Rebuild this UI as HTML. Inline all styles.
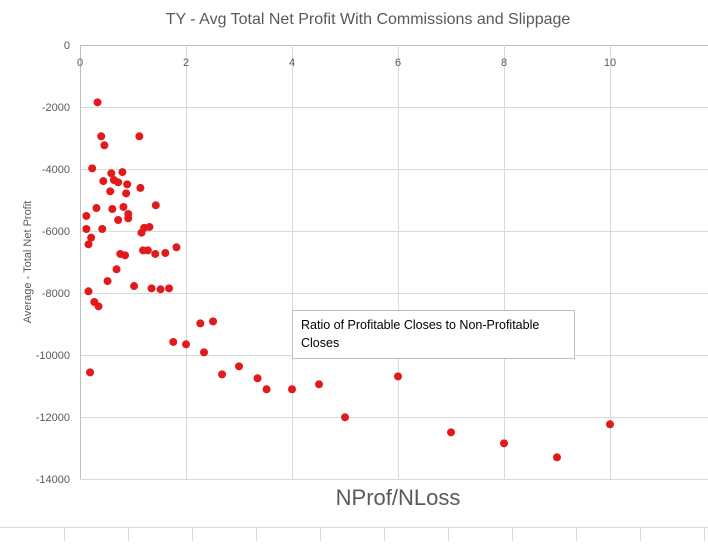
<!DOCTYPE html>
<html><head><meta charset="utf-8"><style>
body{margin:0;background:#fff;font-family:"Liberation Sans",sans-serif;}
svg text{font-family:"Liberation Sans",sans-serif;}
</style></head><body>
<svg id="chart" width="708" height="541" xmlns="http://www.w3.org/2000/svg">
<rect width="708" height="541" fill="#fff"/>
<g id="sheet"></g>
<text x="368" y="24" text-anchor="middle" font-size="16" fill="#595959">TY - Avg Total Net Profit With Commissions and Slippage</text>
<g id="grid"></g>
<g id="xticks"></g>
<g id="yticks"></g>
<g id="points"></g>
<text transform="translate(31,262) rotate(-90)" text-anchor="middle" font-size="11" fill="#595959">Average - Total Net Profit</text>
<text x="398" y="505" text-anchor="middle" font-size="22" fill="#595959">NProf/NLoss</text>
<g>
<rect x="292.5" y="310.5" width="282" height="48" fill="#fff" stroke="#bfbfbf"/>
<text x="301" y="329" font-size="12.5" fill="#000">Ratio of Profitable Closes to Non-Profitable</text>
<text x="301" y="347" font-size="12.5" fill="#000">Closes</text>
</g>
</svg>
<script>
const xTicks=[0,2,4,6,8,10];
const yTicks=[0,-2000,-4000,-6000,-8000,-10000,-12000,-14000];
const xVals=[0.33,0.40,1.12,0.46,0.23,0.59,0.80,0.44,0.64,0.72,0.89,1.14,0.57,0.87,0.31,0.61,0.82,1.43,0.12,0.91,0.91,0.72,0.12,0.42,1.31,1.21,1.16,0.21,0.16,0.76,0.85,1.19,1.28,1.42,1.61,1.82,0.69,0.52,1.02,1.35,1.52,1.68,0.16,0.27,0.35,2.27,2.51,1.76,2.0,2.34,0.19,2.68,3.0,3.35,3.52,4.0,4.51,5.0,6.0,7.0,8.0,9.0,10.0];
const yVals=[-1850,-2945,-2945,-3235,-3980,-4140,-4100,-4390,-4355,-4430,-4495,-4610,-4720,-4785,-5260,-5290,-5225,-5170,-5515,-5450,-5590,-5645,-5935,-5935,-5870,-5900,-6055,-6215,-6430,-6740,-6785,-6625,-6625,-6740,-6710,-6525,-7235,-7615,-7775,-7850,-7880,-7850,-7945,-8290,-8430,-8980,-8915,-9580,-9655,-9915,-10560,-10625,-10365,-10750,-11105,-11105,-10945,-12010,-10690,-12495,-12850,-13300,-12235];
const NS="http://www.w3.org/2000/svg";
const X=v=>80+v*53, Y=v=>45-v/1000*31;
function mk(t,a,p){const e=document.createElementNS(NS,t);for(const k in a)e.setAttribute(k,a[k]);p.appendChild(e);return e;}
const sheet=document.getElementById('sheet');
mk('line',{x1:0,x2:708,y1:527.5,y2:527.5,stroke:'#d9d9d9'},sheet);
for(let x=64;x<708;x+=64){const l=mk('line',{x1:x+0.5,x2:x+0.5,y1:528,y2:541,stroke:'#d9d9d9'},sheet);

}
const grid=document.getElementById('grid');
yTicks.forEach(v=>{const y=Math.round(Y(v))+0.5;const l=mk('line',{x1:80,x2:708,y1:y,y2:y,stroke:v===0?'#bfbfbf':'#d9d9d9'},grid);

});
for(let v=2;X(v)<708;v+=2){const x=Math.round(X(v))+0.5;const l=mk('line',{x1:x,x2:x,y1:45,y2:479,stroke:'#d9d9d9'},grid);

}
const ax=mk('line',{x1:80.5,x2:80.5,y1:45,y2:479,stroke:'#bfbfbf'},grid);


const xt=document.getElementById('xticks');
xTicks.forEach(v=>{const t=mk('text',{x:X(v),y:66,'text-anchor':'middle','font-size':11,fill:'#595959'},xt);t.textContent=v;

});
const yt=document.getElementById('yticks');
yTicks.forEach(v=>{const t=mk('text',{x:70,y:Y(v)+4,'text-anchor':'end','font-size':11,fill:'#595959'},yt);t.textContent=v;

});
const pts=document.getElementById('points');
xVals.forEach((v,i)=>{const c=mk('circle',{cx:X(v),cy:Y(yVals[i]),r:4,fill:'#e31a1c'},pts);

});
</script>
</body></html>
